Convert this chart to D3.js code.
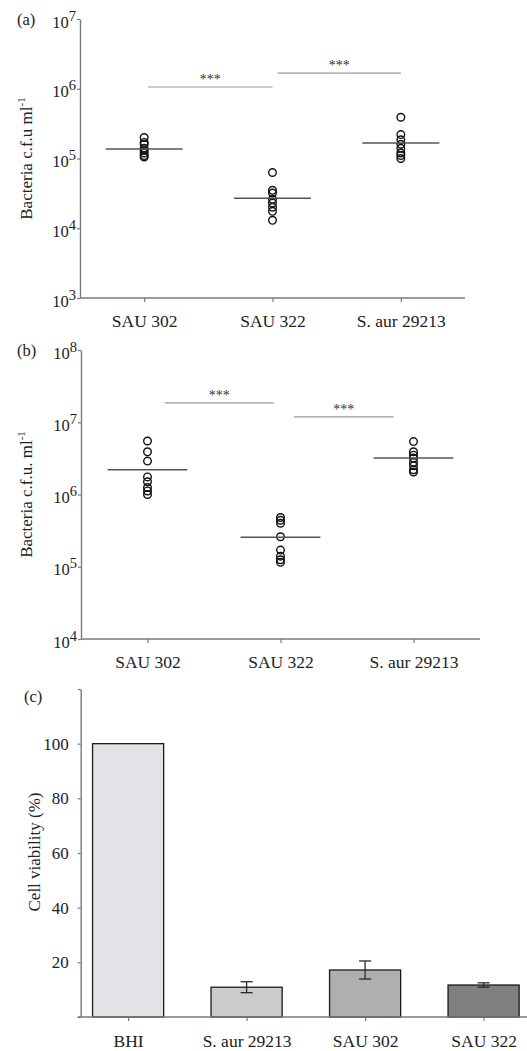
<!DOCTYPE html>
<html>
<head>
<meta charset="utf-8">
<script src="https://cdn.jsdelivr.net/npm/d3@7"></script>
<style>
  body { margin: 0; background: #fff; }
  svg { display: block; }
  svg text { font-family: "Liberation Serif", "Times New Roman", serif; }
</style>
</head>
<body>
<svg id="chart" width="527" height="1051"></svg>
<script>
// strains on the scatter panels
const strains = ["SAU 302", "SAU 322", "S. aur 29213"];

// (a) bacteria counts, c.f.u/ml
const countsA = [
  [2.0e5, 1.7e5, 1.6e5, 1.4e5, 1.3e5, 1.2e5, 1.1e5, 1.05e5],
  [6.3e4, 3.5e4, 3.2e4, 2.6e4, 2.3e4, 2.0e4, 1.75e4, 1.3e4],
  [3.9e5, 2.2e5, 1.85e5, 1.6e5, 1.4e5, 1.2e5, 1.1e5, 1.0e5]
];
const mediansA = [1.37e5, 2.7e4, 1.67e5];
// significance bars: from / to in category index units, height in c.f.u
const sigA = [
  {from: 0.03, to: 1.0, value: 1.06e6, label: "***"},
  {from: 1.04, to: 2.0, value: 1.68e6, label: "***"}
];
const exponentsA = [3, 4, 5, 6, 7];

// (b) bacteria counts, c.f.u./ml
const countsB = [
  [5.5e6, 3.9e6, 2.9e6, 1.75e6, 1.5e6, 1.25e6, 1.12e6, 1.0e6],
  [4.8e5, 4.4e5, 4.0e5, 2.6e5, 1.7e5, 1.4e5, 1.25e5, 1.15e5],
  [5.4e6, 3.9e6, 3.5e6, 3.2e6, 2.8e6, 2.5e6, 2.2e6, 2.05e6]
];
const mediansB = [2.2e6, 2.56e5, 3.2e6];
const sigB = [
  {from: 0.13, to: 0.95, value: 1.86e7, label: "***"},
  {from: 1.1, to: 1.85, value: 1.19e7, label: "***"}
];
const exponentsB = [4, 5, 6, 7, 8];

// (c) cell viability
const groupsC = ["BHI", "S. aur 29213", "SAU 302", "SAU 322"];
const viability = [100, 10.9, 17.2, 11.7];
const viabilityErr = [0, 2.0, 3.3, 0.8];
const barColors = ["#e4e2e6", "#cbcbcb", "#afafaf", "#808080"];
const ticksC = [0, 20, 40, 60, 80, 100, 120];

const svg = d3.select("#chart");
const axisColor = "#7a7a7a";
const textColor = "#222";
const serif = "Liberation Serif, Times New Roman, serif";

// styles the axis path / ticks the way the original figure looks
function styleAxis(g) {
  g.attr("font-family", serif).attr("font-size", null);
  g.select(".domain").attr("stroke", axisColor).attr("stroke-width", 1.4);
  g.selectAll(".tick line").attr("stroke", axisColor).attr("stroke-width", 1.2);
  g.selectAll(".tick text").attr("fill", textColor);
}

// Draws one log scatter panel with medians and significance bars
function scatterPanel(opt) {
  const x = d3.scalePoint().domain(strains).range([opt.left, opt.right]).padding(0.5);
  const y = d3.scaleLog().domain([Math.pow(10, opt.exps[0]), Math.pow(10, opt.exps[opt.exps.length - 1])])
    .range([opt.bottom, opt.top]);
  const step = x.step();
  const idx = i => x(strains[0]) + i * step;

  // y axis with 10^n labels
  const yAxis = d3.axisLeft(y)
    .tickValues(opt.exps.map(e => Math.pow(10, e)))
    .tickSize(3).tickSizeOuter(0).tickPadding(3)
    .tickFormat("");
  const gy = svg.append("g").attr("transform", "translate(" + opt.left + ",0)").call(yAxis);
  styleAxis(gy);
  gy.selectAll(".tick text").remove();
  gy.selectAll(".tick").each(function(d, i) {
    const t = d3.select(this).append("text")
      .attr("x", -4).attr("y", 8)
      .attr("text-anchor", "end")
      .attr("fill", textColor)
      .style("font-size", "16.5px");
    t.append("tspan").text("10");
    t.append("tspan").attr("dy", -7).style("font-size", "14.5px").text(opt.exps[i]);
  });

  // x axis
  const xAxis = d3.axisBottom(x).tickSize(4).tickSizeOuter(0).tickPadding(13);
  const gx = svg.append("g").attr("transform", "translate(0," + opt.bottom + ")").call(xAxis);
  styleAxis(gx);
  gx.selectAll(".tick text").style("font-size", "17.5px");
  gx.select(".domain").attr("d", "M" + opt.left + ",0H" + opt.right);

  // significance bars
  opt.sig.forEach(s => {
    svg.append("line")
      .attr("x1", idx(s.from)).attr("x2", idx(s.to))
      .attr("y1", y(s.value)).attr("y2", y(s.value))
      .attr("stroke", "#9a9a9a").attr("stroke-width", 1.2);
    svg.append("text")
      .attr("x", (idx(s.from) + idx(s.to)) / 2)
      .attr("y", y(s.value) - 3)
      .attr("text-anchor", "middle")
      .attr("fill", "#333")
      .style("font-size", "14px")
      .text(s.label);
  });

  // points
  opt.counts.forEach((vals, i) => {
    svg.selectAll(null)
      .data(vals)
      .enter().append("circle")
      .attr("cx", x(strains[i]))
      .attr("cy", d => y(d))
      .attr("r", 3.8)
      .attr("fill", "none")
      .attr("stroke", "#111")
      .attr("stroke-width", 1.4);
  });

  // medians
  svg.selectAll(null)
    .data(opt.medians)
    .enter().append("line")
    .attr("x1", (d, i) => x(strains[i]) - 0.3 * step)
    .attr("x2", (d, i) => x(strains[i]) + 0.3 * step)
    .attr("y1", d => y(d))
    .attr("y2", d => y(d))
    .attr("stroke", "#555")
    .attr("stroke-width", 1.5);

  // titles
  svg.append("text")
    .attr("x", 17).attr("y", opt.top + 6)
    .attr("fill", textColor)
    .style("font-size", "16.5px")
    .text(opt.tag);

  const yl = svg.append("text")
    .attr("transform", "translate(32," + ((opt.top + opt.bottom) / 2) + ") rotate(-90)")
    .attr("text-anchor", "middle")
    .attr("fill", textColor)
    .style("font-size", "17px");
  yl.append("tspan").text(opt.ylabel);
  yl.append("tspan").attr("dy", -7).style("font-size", "11px").text("-1");
}

scatterPanel({
  left: 80, right: 465, top: 19, bottom: 298,
  exps: exponentsA, counts: countsA, medians: mediansA, sig: sigA,
  tag: "(a)", ylabel: "Bacteria c.f.u ml"
});

scatterPanel({
  left: 81, right: 480, top: 350, bottom: 639,
  exps: exponentsB, counts: countsB, medians: mediansB, sig: sigB,
  tag: "(b)", ylabel: "Bacteria c.f.u. ml"
});

// (c) bar chart of cell viability
(function() {
  const left = 80.7, right = 531, top = 689, bottom = 1017;
  const x = d3.scalePoint().domain(groupsC).range([left, right]).padding(0.4);
  const y = d3.scaleLinear().domain([0, 120]).range([bottom, top]);
  const bw = 0.6 * x.step();

  const yAxis = d3.axisLeft(y).tickValues(ticksC).tickSize(3).tickSizeOuter(0).tickPadding(9)
    .tickFormat(d => (d === 0 || d === 120) ? "" : d);
  const gy = svg.append("g").attr("transform", "translate(" + left + ",0)").call(yAxis);
  styleAxis(gy);
  gy.selectAll(".tick text").style("font-size", "17px");

  svg.selectAll(null)
    .data(viability)
    .enter().append("rect")
    .attr("x", (d, i) => x(groupsC[i]) - bw / 2)
    .attr("width", bw)
    .attr("y", d => y(d))
    .attr("height", d => bottom - y(d))
    .attr("fill", (d, i) => barColors[i])
    .attr("stroke", "#1a1a1a")
    .attr("stroke-width", 1.3);

  // error bars
  viability.forEach((v, i) => {
    const e = viabilityErr[i];
    if (!e) return;
    const cx = x(groupsC[i]);
    const g = svg.append("g").attr("stroke", "#2a2a2a").attr("stroke-width", 1.3);
    g.append("line").attr("x1", cx).attr("x2", cx).attr("y1", y(v - e)).attr("y2", y(v + e));
    g.append("line").attr("x1", cx - 6).attr("x2", cx + 6).attr("y1", y(v - e)).attr("y2", y(v - e));
    g.append("line").attr("x1", cx - 6).attr("x2", cx + 6).attr("y1", y(v + e)).attr("y2", y(v + e));
  });

  const xAxis = d3.axisBottom(x).tickSize(4).tickSizeOuter(0).tickPadding(14);
  const gx = svg.append("g").attr("transform", "translate(0," + bottom + ")").call(xAxis);
  styleAxis(gx);
  gx.selectAll(".tick text").style("font-size", "17.5px");
  gx.select(".domain").attr("d", "M" + (left - 3) + ",0H" + right);

  svg.append("text")
    .attr("x", 24).attr("y", top + 13)
    .attr("fill", textColor)
    .style("font-size", "16.5px")
    .text("(c)");

  svg.append("text")
    .attr("transform", "translate(40," + 852 + ") rotate(-90)")
    .attr("text-anchor", "middle")
    .attr("fill", textColor)
    .style("font-size", "17px")
    .text("Cell viability (%)");
})();
</script>
</body>
</html>
